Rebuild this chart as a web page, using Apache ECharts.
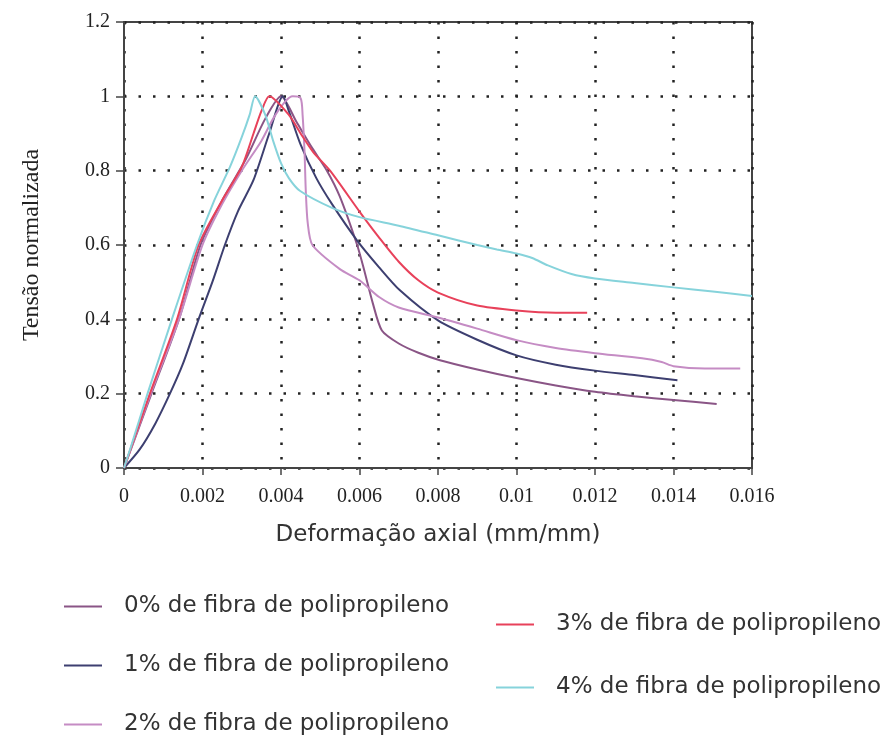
<!DOCTYPE html>
<html>
<head>
<meta charset="utf-8">
<script src="https://cdn.jsdelivr.net/npm/echarts@6/dist/echarts.min.js"></script>
<style>
  html, body { margin: 0; padding: 0; background: #fff; }
  #chart { width: 893px; height: 736px; }
</style>
</head>
<body>
<div id="chart"></div>
<script>
// Axis tick labels
const xTickLabels = ['0', '0.002', '0.004', '0.006', '0.008', '0.01', '0.012', '0.014', '0.016'];
const yTickLabels = ['0', '0.2', '0.4', '0.6', '0.8', '1', '1.2'];

// Series names
const seriesNames = [
  '0% de fibra de polipropileno',
  '1% de fibra de polipropileno',
  '2% de fibra de polipropileno',
  '3% de fibra de polipropileno',
  '4% de fibra de polipropileno'
];

// [deformação axial (mm/mm), tensão normalizada]
const fibra0 = [
  [0, 0], [0.0007, 0.2], [0.0014, 0.4], [0.00195, 0.6], [0.0025, 0.72], [0.0031, 0.83],
  [0.0036, 0.94], [0.004, 1.0], [0.0044, 0.93], [0.0048, 0.86], [0.00517, 0.8], [0.0055, 0.73],
  [0.00594, 0.6], [0.0061, 0.54], [0.00634, 0.443], [0.00657, 0.37], [0.007, 0.335],
  [0.0075, 0.31], [0.00805, 0.29], [0.009, 0.265], [0.01, 0.242], [0.011, 0.222],
  [0.012, 0.205], [0.013, 0.193], [0.014, 0.183], [0.0151, 0.172]
];
const fibra1 = [
  [0, 0], [0.0004, 0.05], [0.0008, 0.12], [0.00117, 0.2], [0.0015, 0.28], [0.0019, 0.4],
  [0.00225, 0.5], [0.00257, 0.6], [0.0029, 0.69], [0.0033, 0.775], [0.0037, 0.9],
  [0.00405, 1.0], [0.0042, 0.96], [0.0045, 0.87], [0.0049, 0.78], [0.0053, 0.71],
  [0.00594, 0.612], [0.0065, 0.54], [0.00703, 0.478], [0.008, 0.397], [0.009, 0.345],
  [0.01, 0.303], [0.011, 0.278], [0.012, 0.262], [0.013, 0.25], [0.0141, 0.236]
];
const fibra2 = [
  [0, 0], [0.00068, 0.2], [0.0014, 0.4], [0.002, 0.6], [0.0025, 0.71], [0.003, 0.8],
  [0.0035, 0.88], [0.0038, 0.94], [0.0041, 0.985], [0.0043, 1.0], [0.0045, 0.995],
  [0.00455, 0.95], [0.0046, 0.85], [0.00463, 0.75], [0.00468, 0.66], [0.0048, 0.6],
  [0.0055, 0.535], [0.006, 0.505], [0.0065, 0.46], [0.007, 0.432], [0.008, 0.405],
  [0.009, 0.375], [0.01, 0.344], [0.011, 0.323], [0.012, 0.309], [0.0132, 0.295],
  [0.0137, 0.285], [0.014, 0.274], [0.0148, 0.268], [0.0157, 0.268]
];
const fibra3 = [
  [0, 0], [0.00066, 0.2], [0.00135, 0.4], [0.0019, 0.6], [0.0025, 0.72], [0.003, 0.81],
  [0.0033, 0.9], [0.0035, 0.96], [0.0037, 1.0], [0.0042, 0.95], [0.0045, 0.9],
  [0.00482, 0.85], [0.00525, 0.8], [0.006, 0.69], [0.0065, 0.62], [0.007, 0.555],
  [0.0075, 0.505], [0.008, 0.472], [0.009, 0.437], [0.01, 0.424], [0.011, 0.418], [0.0118, 0.418]
];
const fibra4 = [
  [0, 0], [0.0002, 0.065], [0.0006, 0.2], [0.00122, 0.4], [0.00186, 0.6], [0.0023, 0.72],
  [0.0027, 0.81], [0.003, 0.89], [0.0032, 0.95], [0.00334, 1.0], [0.0036, 0.95],
  [0.0038, 0.88], [0.004, 0.82], [0.0042, 0.78], [0.00448, 0.746], [0.0053, 0.70],
  [0.006, 0.675], [0.007, 0.652], [0.008, 0.626], [0.009, 0.6], [0.0095, 0.588],
  [0.01, 0.577], [0.0104, 0.565], [0.0108, 0.545], [0.0114, 0.522], [0.012, 0.51],
  [0.013, 0.498], [0.014, 0.486], [0.015, 0.475], [0.016, 0.463]
];

const seriesData = [fibra0, fibra1, fibra2, fibra3, fibra4];
const seriesColors = ['#8a5586', '#3d3f70', '#c58cc4', '#e8415a', '#86d3db'];

const chart = echarts.init(document.getElementById('chart'), null, { renderer: 'canvas' });

const dotted = { color: '#222', width: 2.5, type: [2.5, 12] };
const legendText = {
  fontFamily: 'DejaVu Sans',
  fontSize: 23,
  color: '#333',
  lineHeight: 22,
  padding: [0, 0, 0, 17]
};

chart.setOption({
  animation: false,
  backgroundColor: '#fff',
  grid: {
    left: 124, top: 22, width: 628, height: 446,
    show: true, borderColor: '#444', borderWidth: 2, backgroundColor: 'transparent'
  },
  xAxis: {
    type: 'value', min: 0, max: 0.016, interval: 0.002,
    name: 'Deformação axial (mm/mm)', nameLocation: 'middle', nameGap: 56,
    nameTextStyle: { fontFamily: 'DejaVu Sans', fontSize: 23, color: '#333' },
    axisLine: { show: true, lineStyle: { color: '#444', width: 2 } },
    axisTick: { show: true, length: 7, lineStyle: { color: '#444', width: 1.5 } },
    axisLabel: {
      margin: 19, fontFamily: 'Liberation Serif', fontSize: 20, color: '#222',
      formatter: v => xTickLabels[Math.round(v / 0.002)]
    },
    splitLine: { show: true, lineStyle: dotted }
  },
  yAxis: {
    type: 'value', min: 0, max: 1.2, interval: 0.2,
    name: 'Tensão normalizada', nameLocation: 'middle', nameGap: 80,
    nameTextStyle: { fontFamily: 'Liberation Serif', fontSize: 24, color: '#222' },
    axisLine: { show: true, lineStyle: { color: '#444', width: 2 } },
    axisTick: { show: true, length: 8, lineStyle: { color: '#444', width: 1.5 } },
    axisLabel: {
      margin: 14, fontFamily: 'Liberation Serif', fontSize: 20, color: '#222',
      formatter: v => yTickLabels[Math.round(v / 0.2)]
    },
    splitLine: { show: true, lineStyle: dotted }
  },
  legend: [
    {
      data: seriesNames.slice(0, 3), orient: 'vertical', left: 64, top: 595, padding: 0,
      icon: 'rect', itemWidth: 38, itemHeight: 2, itemGap: 36, textStyle: legendText
    },
    {
      data: seriesNames.slice(3), orient: 'vertical', left: 496, top: 613, padding: 0,
      icon: 'rect', itemWidth: 38, itemHeight: 2, itemGap: 40, textStyle: legendText
    }
  ],
  series: seriesNames.map((name, i) => ({
    name: name,
    type: 'line',
    data: seriesData[i],
    showSymbol: false,
    smooth: 0.25,
    color: seriesColors[i],
    lineStyle: { width: 2, color: seriesColors[i] },
    z: 3
  }))
});
</script>
</body>
</html>
